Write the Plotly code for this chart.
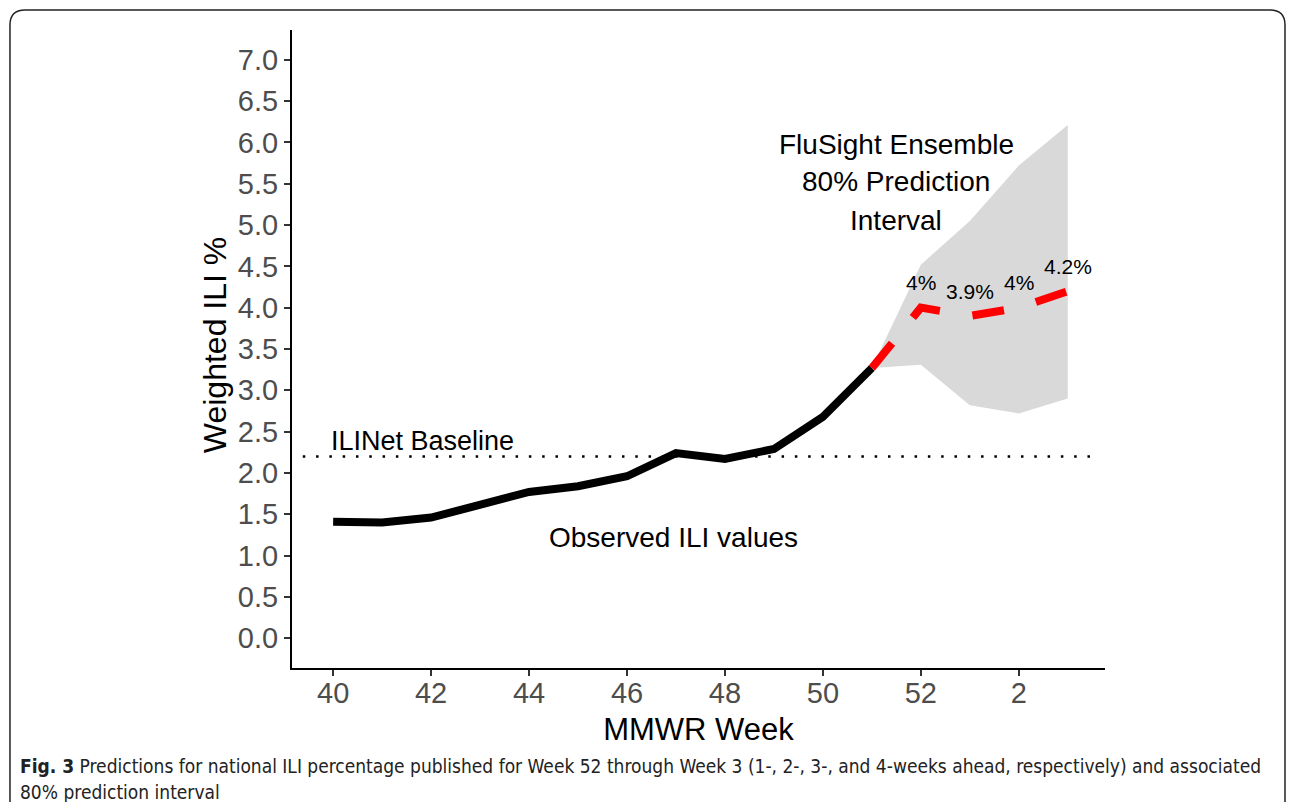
import plotly.graph_objects as go

# ---- data ----
week_labels = ["40", "41", "42", "43", "44", "45", "46", "47", "48", "49",
               "50", "51", "52", "1", "2", "3"]
obs_weeks = ["40", "41", "42", "43", "44", "45", "46", "47", "48", "49", "50", "51"]
obs_ili = [1.41, 1.40, 1.46, 1.62, 1.77, 1.84, 1.96, 2.24, 2.17, 2.29, 2.68, 3.27]
pred_weeks = ["51", "52", "1", "2", "3"]
pred_ili = [3.27, 4.0, 3.9, 4.0, 4.2]
pred_lower = [3.27, 3.31, 2.82, 2.72, 2.90]
pred_upper = [3.27, 4.52, 5.05, 5.72, 6.21]
pred_text_labels = ["4%", "3.9%", "4%", "4.2%"]
baseline = 2.2
tick_weeks = ["40", "42", "44", "46", "48", "50", "52", "2"]
y_ticks = [i * 0.5 for i in range(15)]

idx = {w: i for i, w in enumerate(week_labels)}
ox = [idx[w] for w in obs_weeks]
px_ = [idx[w] for w in pred_weeks]

FONT = "Liberation Sans, Arial, sans-serif"

fig = go.Figure()

# prediction interval
fig.add_trace(go.Scatter(x=px_, y=pred_lower, mode="lines", line=dict(width=0, color="#d9d9d9"),
                         hoverinfo="skip", showlegend=False))
fig.add_trace(go.Scatter(x=px_, y=pred_upper, mode="lines", line=dict(width=0, color="#d9d9d9"),
                         fill="tonexty", fillcolor="#d9d9d9", hoverinfo="skip", showlegend=False))

# baseline
fig.add_trace(go.Scatter(x=[-0.62, 15.65], y=[baseline, baseline], mode="lines",
                         line=dict(color="black", width=2.5, dash="2.5px,10.8px"),
                         showlegend=False))

# observed
fig.add_trace(go.Scatter(x=ox, y=obs_ili, mode="lines",
                         line=dict(color="black", width=8), showlegend=False))

# predicted
fig.add_trace(go.Scatter(x=px_, y=pred_ili, mode="lines",
                         line=dict(color="#ff0000", width=8, dash="32px,33px"), showlegend=False))

# labels for predictions
for w, v, t in zip(pred_weeks[1:], pred_ili[1:], pred_text_labels):
    fig.add_annotation(x=idx[w], y=v + 0.3, text=t, showarrow=False,
                       font=dict(size=21, color="black", family=FONT))

for txt, yy in zip(["FluSight Ensemble", "80% Prediction", "Interval"], [5.98, 5.53, 5.06]):
    fig.add_annotation(x=11.5, y=yy, text=txt, showarrow=False,
                       font=dict(size=28, color="black", family=FONT))
fig.add_annotation(x=-0.08, y=2.39, text="ILINet Baseline", showarrow=False, xanchor="left",
                   font=dict(size=27, color="black", family=FONT))
fig.add_annotation(x=6.95, y=1.22, text="Observed ILI values", showarrow=False,
                   font=dict(size=28, color="black", family=FONT))

# y-axis title
fig.add_annotation(xref="paper", yref="paper", x=-0.0947, y=0.506, text="Weighted ILI %",
                   textangle=-90, showarrow=False, xanchor="center", yanchor="middle",
                   font=dict(size=32, color="black", family=FONT))

# caption (two lines)
CAP = "DejaVu Sans Condensed, Liberation Sans Narrow, Open Sans, sans-serif"
fig.add_annotation(xref="paper", yref="paper", x=-0.337, y=-0.1535, xanchor="left", yanchor="middle",
                   align="left", showarrow=False,
                   text="<b>Fig. 3</b> Predictions for national ILI percentage published for Week 52 through Week 3 "
                        "(1-, 2-, 3-, and 4-weeks ahead, respectively) and associated",
                   font=dict(size=19, color="#222222", family=CAP))
fig.add_annotation(xref="paper", yref="paper", x=-0.337, y=-0.1945, xanchor="left", yanchor="middle",
                   align="left", showarrow=False, text="80% prediction interval",
                   font=dict(size=19, color="#222222", family=CAP))

fig.update_layout(
    width=1279, height=794,
    margin=dict(l=284, r=182, t=22, b=134),
    paper_bgcolor="white", plot_bgcolor="white",
    font=dict(family=FONT, color="black"),
    xaxis=dict(range=[-0.84, 15.76], tickmode="array",
               tickvals=[idx[w] for w in tick_weeks], ticktext=tick_weeks,
               showgrid=False, zeroline=False, showline=True, linecolor="black", linewidth=2,
               ticks="outside", ticklen=6, tickwidth=1.5, tickcolor="#333333",
               ticklabelstandoff=-8,
               tickfont=dict(size=29, color="#4d4d4d"),
               title=dict(text="MMWR Week", font=dict(size=31, color="black"), standoff=11)),
    yaxis=dict(range=[-0.36, 7.36], tickmode="array", tickvals=y_ticks,
               ticktext=[f"{v:.1f}" for v in y_ticks],
               showgrid=False, zeroline=False, showline=True, linecolor="black", linewidth=2,
               ticks="outside", ticklen=6, tickwidth=1.5, tickcolor="#333333",
               tickfont=dict(size=29, color="#4d4d4d")),
    shapes=[dict(type="path", xref="paper", yref="paper",
                 path="M -0.3469 -0.26 L -0.3469 1.0078 Q -0.3469 1.0313 -0.3285 1.0313 "
                      "L 1.2030 1.0313 Q 1.2214 1.0313 1.2214 1.0078 L 1.2214 -0.26",
                 line=dict(color="#222222", width=1.5))],
)

fig.write_html("out.html")
